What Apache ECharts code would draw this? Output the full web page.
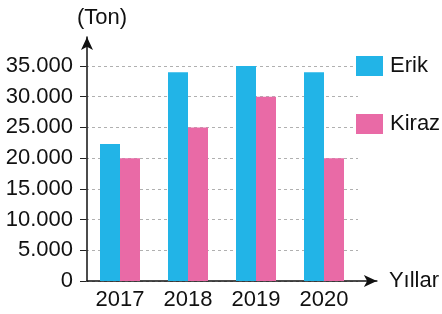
<!DOCTYPE html>
<html>
<head>
<meta charset="utf-8">
<script src="https://cdn.jsdelivr.net/npm/echarts@6/dist/echarts.min.js"></script>
<style>
  html, body { margin: 0; padding: 0; background: #fff; }
  #chart { width: 442px; height: 314px; }
</style>
</head>
<body>
<div id="chart"></div>
<script>
// yıllar ve üretim miktarları (ton)
const years = ['2017', '2018', '2019', '2020']
const erik = [22300, 34000, 35000, 34000]
const kiraz = [20000, 25000, 30000, 20000]
const seriesNames = ['Erik', 'Kiraz']
const colors = ['#22b4e7', '#e96aa6']

const font = '"Liberation Sans", Arial, sans-serif'
const fs = 22

const chart = echarts.init(document.getElementById('chart'))

function fmt(v) {
  if (v === 0) return '0'
  return String(v).replace(/\B(?=(\d{3})+(?!\d))/g, '.')
}

chart.setOption({
  animation: false,
  textStyle: { fontFamily: font },
  color: colors,
  legend: {
    orient: 'vertical',
    left: 351,
    top: 50,
    icon: 'rect',
    itemWidth: 27,
    itemHeight: 20,
    itemGap: 36,
    textStyle: { fontSize: fs, color: '#111', fontFamily: font, padding: [0, 0, 0, 2] },
    data: seriesNames
  },
  grid: [
    // bars + grid lines
    { left: 86, top: 66, width: 272, height: 215 },
    // only for the long axis lines with arrows
    { left: 87, top: 37, width: 291, height: 244 }
  ],
  xAxis: [
    {
      type: 'category',
      gridIndex: 0,
      data: years,
      axisLine: { show: false },
      axisTick: { show: false },
      axisLabel: { fontSize: fs, color: '#111', margin: 8, fontFamily: font }
    },
    {
      type: 'value',
      gridIndex: 1,
      min: 0,
      max: 1,
      name: 'Yıllar',
      nameLocation: 'end',
      nameGap: 12,
      nameTextStyle: { fontSize: fs, color: '#111', fontFamily: font },
      axisLine: {
        show: true,
        symbol: ['none', 'arrow'],
        symbolSize: [9, 13],
        lineStyle: { color: '#111', width: 1.5 }
      },
      axisTick: { show: false },
      axisLabel: { show: false },
      splitLine: { show: false }
    }
  ],
  yAxis: [
    {
      type: 'value',
      gridIndex: 0,
      min: 0,
      max: 35000,
      interval: 5000,
      axisLine: { show: false },
      axisTick: { show: true, length: 6, lineStyle: { color: '#222' } },
      axisLabel: {
        fontSize: fs,
        color: '#111',
        margin: 13,
        fontFamily: font,
        formatter: fmt
      },
      splitLine: {
        show: true,
        lineStyle: { type: [3, 3], color: '#b0b0b0', width: 1 }
      }
    },
    {
      type: 'value',
      gridIndex: 1,
      min: 0,
      max: 1,
      name: '(Ton)',
      nameLocation: 'end',
      nameGap: 8,
      nameTextStyle: {
        fontSize: fs,
        color: '#111',
        fontFamily: font,
        align: 'center',
        padding: [0, 0, 0, 30]
      },
      axisLine: {
        show: true,
        symbol: ['none', 'arrow'],
        symbolSize: [9, 13],
        lineStyle: { color: '#111', width: 1.5 }
      },
      axisTick: { show: false },
      axisLabel: { show: false },
      splitLine: { show: false }
    }
  ],
  series: [
    {
      name: seriesNames[0],
      type: 'bar',
      xAxisIndex: 0,
      yAxisIndex: 0,
      barWidth: 20,
      barGap: '0%',
      data: erik
    },
    {
      name: seriesNames[1],
      type: 'bar',
      xAxisIndex: 0,
      yAxisIndex: 0,
      barWidth: 20,
      barGap: '0%',
      data: kiraz
    }
  ]
})
</script>
</body>
</html>
